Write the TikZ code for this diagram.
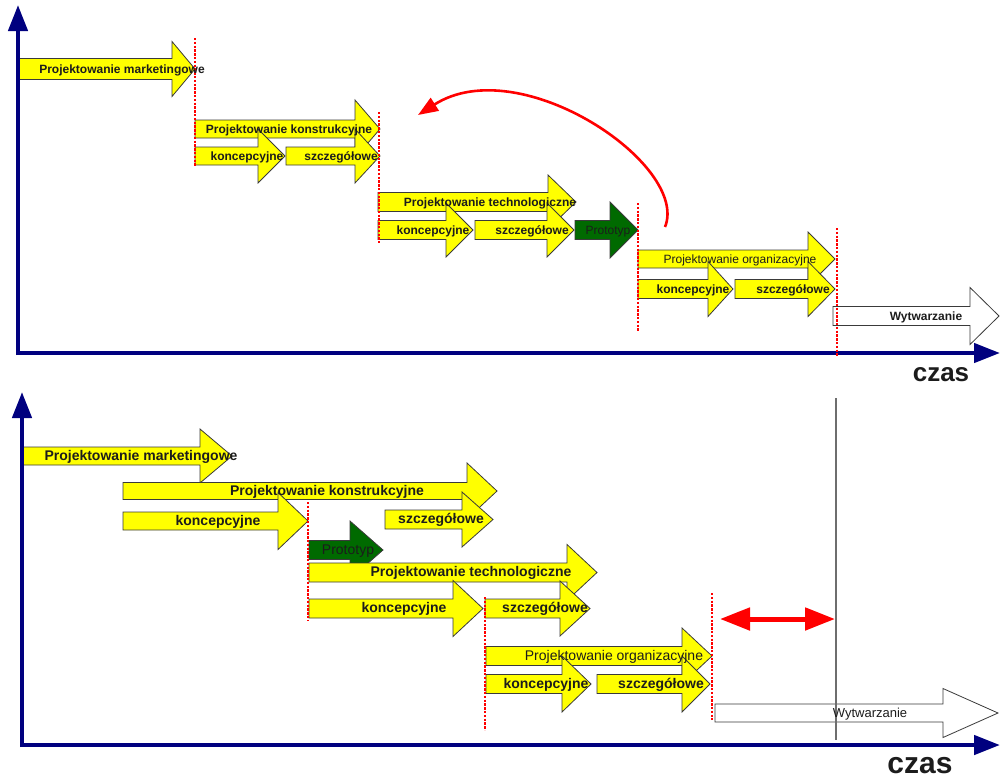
\documentclass[tikz,border=0pt]{standalone}
\usepackage{fontspec}
\setmainfont{Liberation Sans}
\usetikzlibrary{arrows.meta}
\definecolor{ganInk}{HTML}{1C1C1C}
\definecolor{ganEdge}{HTML}{3A3A3A}
\definecolor{ganYellow}{HTML}{FFFF00}
\definecolor{ganGreen}{HTML}{006A00}
\definecolor{ganNavy}{HTML}{00007F}
\definecolor{ganRed}{HTML}{FF0000}
\definecolor{ganGray}{HTML}{6E6E6E}
\tikzset{
 gantt/.style={line join=miter,x=1pt,y=-1pt},
 phase/.style={draw=ganEdge,fill=ganYellow,line width=.8pt},
 proto/.style={phase,fill=ganGreen},
 prod/.style={phase,fill=white},
 axis/.style={draw=ganNavy,line width=4.5pt,-{Triangle[length=26pt,width=19pt]}},
 cut/.style={draw=ganRed,line width=2.8pt,dash pattern=on 2.4pt off 1.4pt},
 back/.style={draw=ganRed,line width=2.6pt,-{Triangle[length=20pt,width=15pt]}},
 slack/.style={draw=ganRed,line width=5pt,{Triangle[length=30pt,width=22pt]}-{Triangle[length=30pt,width=22pt]}},
 endline/.style={draw=ganGray,line width=1.2pt},
 tagS/.style={font=\fontsize{12}{12}\selectfont\bfseries,text=ganInk,inner sep=0pt,anchor=mid,yshift=-1.5pt},
 tagSr/.style={tagS,font=\fontsize{12}{12}\selectfont},
 tagL/.style={tagS,font=\fontsize{14}{14}\selectfont\bfseries},
 tagLr/.style={tagS,font=\fontsize{14}{14}\selectfont},
 timeS/.style={font=\fontsize{26}{26}\selectfont\bfseries,text=ganInk,anchor=base,inner sep=0pt},
 timeL/.style={timeS,font=\fontsize{30}{30}\selectfont\bfseries}
}
% block arrow: style, x start, head start, tip, y centre, half body, half head
\newcommand{\phaseArrow}[7]{%
 \path[#1] (#2,#5-#6) -- (#3,#5-#6) -- (#3,#5-#7) -- (#4,#5) -- (#3,#5+#7)
  -- (#3,#5+#6) -- (#2,#5+#6) -- cycle;}

\begin{document}
\begin{tikzpicture}[gantt]
 \useasboundingbox (0,0) rectangle (1000,779);
 % sequential process
 \begin{scope}
  \coordinate (O1) at (18,353); \coordinate (Y1) at (18,5); \coordinate (X1) at (1000,353);
  \phaseArrow{phase}{18}{172}{195}{69}{10.5}{27.5}
  \phaseArrow{phase}{195}{355}{380}{129}{9}{29}
  \phaseArrow{phase}{195}{258}{285}{156}{9}{27}
  \phaseArrow{phase}{286}{355}{380}{156}{9}{27}
  \phaseArrow{phase}{378}{548}{576}{202}{9.5}{27}
  \phaseArrow{phase}{378}{446}{473}{230}{9.5}{27}
  \phaseArrow{phase}{475}{547}{574}{230}{9.5}{27}
  \phaseArrow{proto}{575}{610}{638}{230}{9.5}{28}
  \phaseArrow{phase}{638}{808}{835}{259}{9}{27}
  \phaseArrow{phase}{638}{708}{733}{289}{9.5}{27.5}
  \phaseArrow{phase}{735}{808}{835}{289}{9.5}{27.5}
  \phaseArrow{prod}{833}{970}{999}{316}{9.5}{28.5}
  \draw[axis] ([yshift=-2pt]O1) -- (Y1);
  \draw[axis] ([xshift=-2pt]O1) -- (X1);
  \draw[cut] (195,38) -- (195,166); \draw[cut] (379,112) -- (379,243);
  \draw[cut] (638,203) -- (638,332); \draw[cut] (837,228) -- (837,357);
  \coordinate (loopS) at (665,227); \coordinate (loopE) at (418,115);
  \draw[back] (loopS) .. controls (690,165) and (520,50) .. (loopE);
  \node[tagS] (mkt1) at (122,69) {Projektowanie marketingowe};
  \node[tagS] (kon1) at (289,129) {Projektowanie konstrukcyjne};
  \node[tagS] (konA1) at (247,156) {koncepcyjne}; \node[tagS] (konB1) at (341,156) {szczegółowe};
  \node[tagS] (tec1) at (490,202) {Projektowanie technologiczne};
  \node[tagS] (tecA1) at (433,230) {koncepcyjne}; \node[tagS] (tecB1) at (532,230) {szczegółowe};
  \node[tagSr] (pro1) at (608,230) {Prototyp};
  \node[tagSr] (org1) at (740,259) {Projektowanie organizacyjne};
  \node[tagS] (orgA1) at (693,289) {koncepcyjne}; \node[tagS] (orgB1) at (793,289) {szczegółowe};
  \node[tagS] (wyt1) at (926,316) {Wytwarzanie};
  \node[timeS] (czas1) at (941,381) {czas};
 \end{scope}
 % concurrent process
 \begin{scope}
  \coordinate (O2) at (22,745); \coordinate (Y2) at (22,392); \coordinate (X2) at (1000,745);
  \phaseArrow{phase}{22}{200}{232}{456}{9}{27}
  \phaseArrow{phase}{123}{467}{497}{491}{8.5}{28}
  \phaseArrow{phase}{123}{278}{308}{521}{9}{28.5}
  \phaseArrow{phase}{385}{462}{493}{519.5}{9.5}{27.5}
  \phaseArrow{proto}{309}{350}{383}{550}{9.5}{29}
  \phaseArrow{phase}{309}{567}{597}{572.5}{9.5}{28}
  \phaseArrow{phase}{309}{453}{483}{608.5}{9.5}{28}
  \phaseArrow{phase}{485}{560}{590}{608.5}{9.5}{27.5}
  \phaseArrow{phase}{486}{682}{712}{656}{9.5}{28}
  \phaseArrow{phase}{486}{562}{591}{684}{9.5}{28}
  \phaseArrow{phase}{597}{682}{710}{684}{9.5}{28}
  \phaseArrow{prod}{715}{943}{998}{713}{9}{24.5}
  \draw[axis] ([yshift=-2pt]O2) -- (Y2);
  \draw[axis] ([xshift=-2pt]O2) -- (X2);
  \draw[cut] (308,502) -- (308,620); \draw[cut] (485,597) -- (485,730);
  \draw[cut] (712,593) -- (712,720);
  \coordinate (endA) at (836,398); \coordinate (endB) at (836,740);
  \draw[endline] (endA) -- (endB);
  \coordinate (gapS) at (720,619); \coordinate (gapE) at (835,619);
  \draw[slack] (gapS) -- (gapE);
  \node[tagL] (mkt2) at (141,456) {Projektowanie marketingowe};
  \node[tagL] (kon2) at (327,491) {Projektowanie konstrukcyjne};
  \node[tagL] (konA2) at (218,521) {koncepcyjne}; \node[tagL] (konB2) at (441,519.5) {szczegółowe};
  \node[tagLr] (pro2) at (348,550) {Prototyp};
  \node[tagL] (tec2) at (471,572.5) {Projektowanie technologiczne};
  \node[tagL] (tecA2) at (404,608.5) {koncepcyjne}; \node[tagL] (tecB2) at (545,608.5) {szczegółowe};
  \node[tagLr] (org2) at (614,656) {Projektowanie organizacyjne};
  \node[tagL] (orgA2) at (546,684) {koncepcyjne}; \node[tagL] (orgB2) at (661,684) {szczegółowe};
  \node[tagSr,font=\fontsize{13}{13}\selectfont] (wyt2) at (870,713) {Wytwarzanie};
  \node[timeL] (czas2) at (920,773) {czas};
 \end{scope}
\end{tikzpicture}
\end{document}
